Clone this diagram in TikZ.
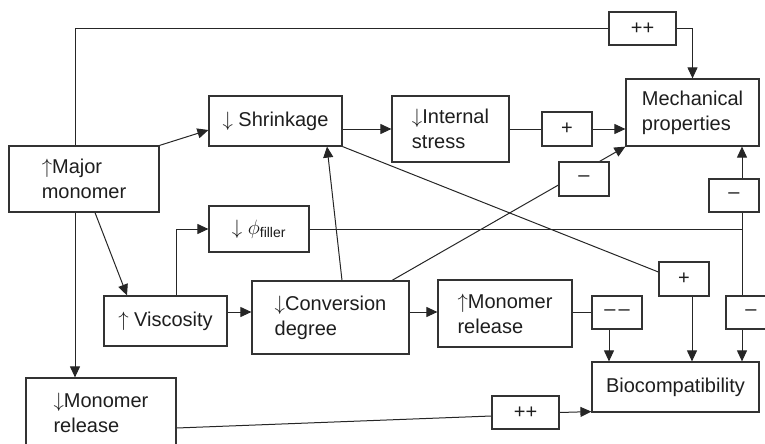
\documentclass[tikz,border=0pt]{standalone}
\usepackage{fontspec}
\setmainfont{Liberation Sans}
\usetikzlibrary{arrows.meta}
\pgfdeclarelayer{bg}
\pgfsetlayers{bg,main}
\definecolor{boxcol}{HTML}{333333}
\definecolor{txtcol}{HTML}{1E1E1E}
\definecolor{linecol}{HTML}{262626}
\newcommand{\uar}{$\uparrow$}
\newcommand{\dar}{$\downarrow$}
\begin{document}
\begin{tikzpicture}[x=1pt,y=-1pt,
  box/.style={draw=boxcol, line width=1.2pt, fill=white, inner sep=0pt, align=left,
    font=\fontsize{20}{25}\selectfont, text=txtcol},
  sign/.style={box, align=center, font=\fontsize{20}{22}\selectfont},
  conn/.style={draw=linecol, line width=1pt},
  arr/.style={conn, -{Triangle[length=11pt,width=10pt]}}]
\useasboundingbox (0,0) rectangle (765,444);
\clip (0,0) rectangle (765,444);
% boxes
\node[box, minimum width=150pt, minimum height=66pt] (major) at (84,179) {\uar Major\\monomer};
\node[box, minimum width=133pt, minimum height=50pt] (shrink) at (275.5,121) {\dar\ Shrinkage};
\node[box, minimum width=117pt, minimum height=66pt] (stress) at (450.5,129) {\dar Internal\\stress};
\node[box, minimum width=133pt, minimum height=67pt] (mech) at (692.5,112.5) {Mechanical\\properties};
\node[box, minimum width=100pt, minimum height=46pt] (phi) at (259,229) {\dar\ $\phi$\textsubscript{filler}};
\node[box, minimum width=123pt, minimum height=50pt] (visc) at (165.5,321) {\uar\ Viscosity};
\node[box, minimum width=157pt, minimum height=73pt] (conv) at (330.5,317.5) {\dar Conversion\\degree};
\node[box, minimum width=134pt, minimum height=67pt] (mrelup) at (505,313.5) {\uar Monomer\\release};
\node[box, minimum width=167pt, minimum height=50pt] (bio) at (675.5,387) {Biocompatibility};
\node[box, minimum width=150pt, minimum height=70pt] (mreldn) at (101,413) {\dar Monomer\\release};
% sign boxes
\node[sign, minimum width=67pt, minimum height=33pt] (pp1) at (642.5,28.5) {++};
\node[sign, minimum width=50pt, minimum height=34pt] (plus1) at (567,129) {+};
\node[sign, minimum width=50pt, minimum height=34pt] (minus1) at (584,179) {–};
\node[sign, minimum width=50pt, minimum height=33pt] (minus2) at (734,195.5) {–};
\node[sign, minimum width=50pt, minimum height=34pt] (plus2) at (684,279) {+};
\node[sign, minimum width=50pt, minimum height=33pt] (mm) at (617,312.5) {–\hspace{3pt}–};
\node[sign, minimum width=50pt, minimum height=33pt] (minus3) at (751,312.5) {–};
\node[sign, minimum width=67pt, minimum height=33pt] (pp2) at (525.5,412.5) {++};
\coordinate (jn) at (742,229);
% connectors
\begin{pgfonlayer}{bg}
\draw[conn] ([xshift=-9pt]major.north) |- (pp1.west);
\draw[arr] (pp1.east) -| (mech.north);
\draw[arr] (major.north east) -- ([yshift=-9pt]shrink.west);
\draw[arr] (stress.west -| shrink.east) -- (stress.west);
\draw[conn] (stress.east) -- (plus1.west);
\draw[arr] (plus1.east) -- (plus1.east -| mech.west);
\draw[arr] ([xshift=61.5pt]conv.north) -- (mech.south west);
\draw[conn] (phi.east) -- (jn);
\draw[arr] (jn) -- (jn |- mech.south);
\draw[arr] (jn) -- (jn |- bio.north);
\draw[conn] (shrink.south east) -- ([yshift=7pt]plus2.west);
\draw[arr] ([xshift=8pt]plus2.south) -- ([xshift=8pt]plus2.south |- bio.north);
\draw[arr] ([xshift=11pt]major.south) -- ([xshift=-38.5pt]visc.north);
\draw[arr] ([xshift=10.5pt]visc.north) |- (phi.west);
\draw[arr] ([yshift=9pt]visc.east) -- ([yshift=9pt]visc.east -| conv.west);
\draw[arr] ([xshift=11.5pt]conv.north) -- ([xshift=51.5pt]shrink.south);
\draw[arr] ([yshift=5.5pt]conv.east) -- ([yshift=5.5pt]conv.east -| mrelup.west);
\draw[conn] (mm.west -| mrelup.east) -- (mm.west);
\draw[arr] ([xshift=-8pt]mm.south) -- ([xshift=-8pt]mm.south |- bio.north);
\draw[arr] ([xshift=-9pt]major.south) -- ([xshift=-9pt]major.south |- mreldn.north);
\draw[conn] ([yshift=-15pt]mreldn.east) -- ([yshift=-3.5pt]pp2.west);
\draw[arr] (pp2.east) -- ([yshift=1pt]bio.south west);
\end{pgfonlayer}
\end{tikzpicture}
\end{document}
